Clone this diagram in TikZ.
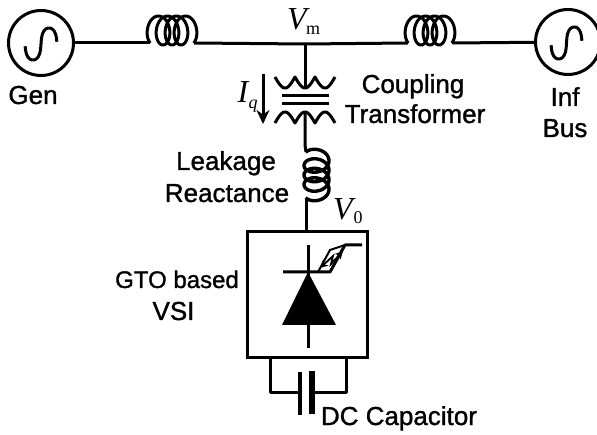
\documentclass[tikz,border=0pt]{standalone}
\usepackage{fontspec}
\setmainfont[FakeBold=1.2]{Liberation Sans}
\newfontfamily\vfont{Liberation Serif}
\usetikzlibrary{arrows.meta}
\tikzset{
  wire/.style={line width=3pt,line join=round},
  lab/.style={inner sep=0pt,anchor=base,font=\fontsize{26}{28}\selectfont},
  sym/.style={inner sep=0pt,font=\vfont\itshape\fontsize{32}{34}\selectfont},
  subs/.style={inner sep=0pt,font=\vfont\fontsize{18}{20}\selectfont},
  source/.style={circle,draw,line width=3pt,minimum size=65pt,inner sep=0pt},
  fine/.style={smooth,samples=100,variable=\t}
}
\begin{document}
\begin{tikzpicture}[x=1pt,y=-1pt]
\begin{scope}
\clip (0,0) rectangle (597,435);
\useasboundingbox (0,0) rectangle (597,435);
% sources
\node[source] (gen) at (41,43) {};
\node[source] (inf) at (568,42) {};
\draw[wire,fine,domain=8:352] plot ({25+32*(\t/360)-2*sin(2*\t)},{44+16*sin(\t)});
\draw[wire,fine,domain=8:352] plot ({551+31*(\t/360)-2*sin(2*\t)},{43+16*sin(\t)});
% coil end points
\coordinate (c1a) at (150,43);
\coordinate (c1b) at (194,43);
\coordinate (c2a) at (408,43);
\coordinate (c2b) at (452,43);
\coordinate (bus) at (305,44);
\coordinate (tp) at (305,88);
\coordinate (ts) at (305,112);
\coordinate (c3a) at (306,152);
\coordinate (c3b) at (306,198);
% bus
\draw[wire] (gen) -- (c1a);
\draw[wire] (c1b) -- (bus) -- (c2a);
\draw[wire] (c2b) -- (inf);
\draw[wire] (bus) -- (tp);
\draw[wire] (ts) -- (305,145) -- (c3a);
% horizontal coils
\draw[wire,fine,samples=160,domain=30:1410] plot ({154+36*(\t/1440)-9*sin(\t)},{45-14.5*(1-cos(\t))});
\draw[wire,fine,samples=160,domain=30:1410] plot ({412+36*(\t/1440)-9*sin(\t)},{45-14.5*(1-cos(\t))});
% vertical coil
\draw[wire,line width=3.4pt,fine,samples=160,domain=30:1410] plot ({304+12.5*(1-cos(\t))},{156+38*(\t/1440)-9*sin(\t)});
% transformer
\draw[wire,fine,domain=0:540] plot ({275+60*(\t/540)},{77+11*abs(sin(\t))});
\draw[wire,fine,domain=0:540] plot ({275+60*(\t/540)},{123-11*abs(sin(\t))});
\coordinate (b1l) at (282,96); \coordinate (b1r) at (329,96);
\coordinate (b2l) at (282,104); \coordinate (b2r) at (329,104);
\draw[wire] (b1l) -- (b1r);
\draw[wire] (b2l) -- (b2r);
% current arrow
\coordinate (ia) at (263,74); \coordinate (ib) at (263,124);
\draw[wire,-{Stealth[length=14pt,width=13pt]}] (ia) -- (ib);
% VSI box
\node[draw,line width=3pt,minimum width=120pt,minimum height=126pt,inner sep=0pt] (vsi) at (307,295) {};
\draw[wire] (c3b) -- (306,231);
% thyristor
\coordinate (ta) at (308,245); \coordinate (tk) at (308,348);
\coordinate (gl) at (283,272); \coordinate (gr) at (330,272);
\coordinate (g2) at (345,245); \coordinate (g3) at (362,245);
\draw[wire] (ta) -- (tk);
\draw[wire] (gl) -- (gr) -- (g2) -- (g3);
\draw[line width=2pt] (318,272) -- (330,250) -- (345,245);
\fill (308,272) -- (336,325) -- (282,325) -- cycle;
% lightning
\draw[line width=1.8pt,{Stealth[length=8pt,width=8pt]}-{Stealth[length=8pt,width=8pt]}] (320,268) -- (333,256) -- (331,264) -- (343,251);
% capacitor
\coordinate (cl) at (270,393); \coordinate (cr) at (346,393);
\coordinate (p1) at (300,393); \coordinate (p2) at (312,393);
\coordinate (p1t) at (300,372); \coordinate (p1b) at (300,415);
\coordinate (p2t) at (312,371); \coordinate (p2b) at (312,414);
\draw[wire] (cl |- vsi.south) -- (cl) -- (p1);
\draw[wire] (cr |- vsi.south) -- (cr) -- (p2);
\draw[line width=3.4pt] (p1t) -- (p1b);
\draw[line width=6pt] (p2t) -- (p2b);
% labels
\node[lab] (tgen) at (33,104) {Gen};
\node[lab] (tinf) at (565,106) {Inf};
\node[lab] (tbus) at (565,137) {Bus};
\node[lab] (tc) at (413,93) {Coupling};
\node[lab] (tt) at (415,123) {Transformer};
\node[lab] (tl) at (226,170) {Leakage};
\node[lab] (tr) at (227,202) {Reactance};
\node[lab,font=\fontsize{24}{26}\selectfont] (tg) at (177,288) {GTO based};
\node[lab] (tv) at (173.5,320) {VSI};
\node[lab] (td) at (399,425) {DC Capacitor};
\node[sym] (vm) at (297,19) {V};
\node[subs] (vms) at (313,30) {m};
\node[sym] (iq) at (243,92) {I};
\node[inner sep=0pt,font=\vfont\itshape\fontsize{18}{20}\selectfont] (iqs) at (253,106) {q};
\node[sym] (v0) at (343,209) {V};
\node[subs] (v0s) at (358,218) {0};
\end{scope}
\end{tikzpicture}
\end{document}
